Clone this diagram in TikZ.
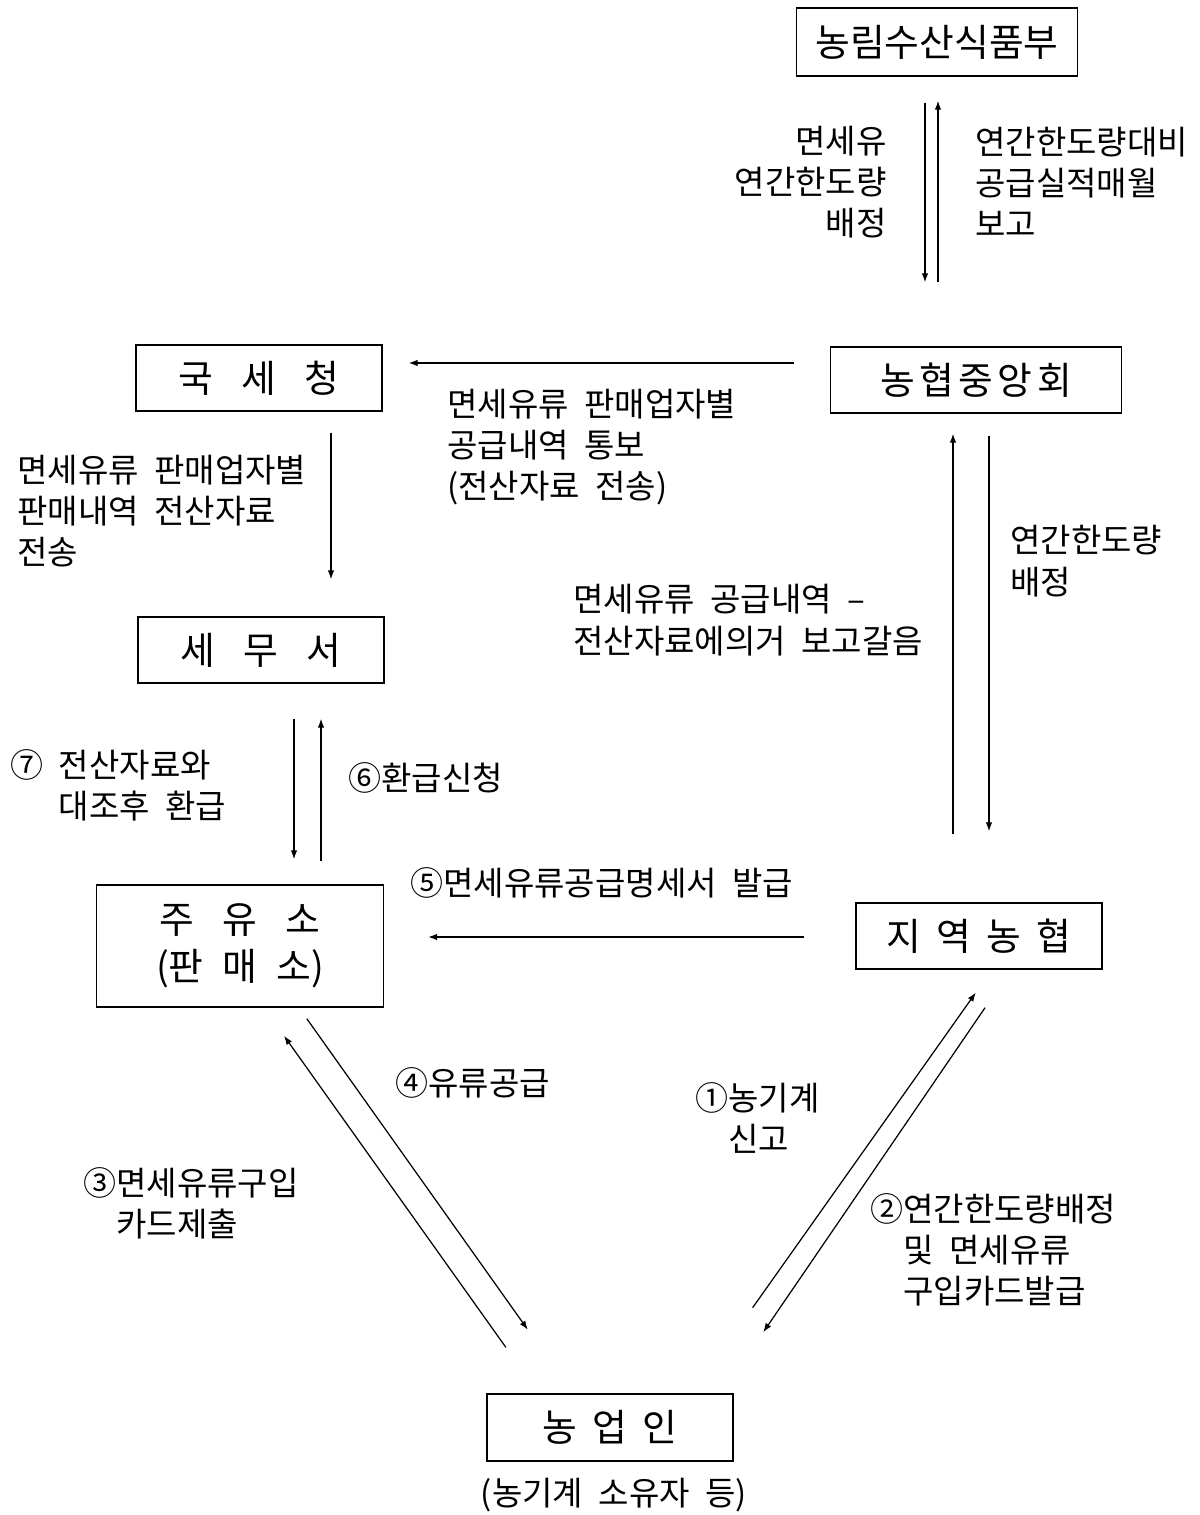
\documentclass[tikz,border=0pt]{standalone}
\usepackage{fontspec}
\setmainfont{Noto Sans CJK KR}[WordSpace=2.1]
\usepackage{tikz}
\usetikzlibrary{calc,arrows.meta}

\tikzset{
  box/.style={draw, line width=0.8pt, inner sep=0pt, align=center, font=\fontsize{21.5}{27}\selectfont},
  lbl/.style={inner sep=0pt, font=\fontsize{18.8}{23.5}\selectfont},
  arr/.style={-{Latex[length=1.8mm,width=1.3mm]}, line width=0.7pt}
}

\begin{document}
\begin{tikzpicture}[x=0.02cm,y=-0.02cm]
        \useasboundingbox (0,0) rectangle (1200,1515);

        \node[box, minimum width=5.62cm, minimum height=1.36cm] (mafra) at (937,42) {농림수산식품부};
        \node[box, minimum width=4.92cm, minimum height=1.32cm] (nts) at (259,378) {국\hspace{0.75em}세\hspace{0.75em}청};
        \node[box, minimum width=5.82cm, minimum height=1.32cm] (nh) at (976,380) {농\hspace{0.12em}협\hspace{0.12em}중\hspace{0.12em}앙\hspace{0.12em}회};
        \node[box, minimum width=4.92cm, minimum height=1.32cm] (tax) at (261,650) {세\hspace{0.75em}무\hspace{0.75em}서};
        \node[box, minimum width=5.74cm, minimum height=2.44cm] (gas) at (240,946) {주\hspace{0.75em}유\hspace{0.75em}소\\(판\hspace{0.5em}매\hspace{0.5em}소)};
        \node[box, minimum width=4.92cm, minimum height=1.32cm] (local) at (979,936) {지\hspace{0.4em}역\hspace{0.4em}농\hspace{0.4em}협};
        \node[box, minimum width=4.92cm, minimum height=1.34cm] (farmer) at (610,1427.5) {농\hspace{0.4em}업\hspace{0.4em}인};
        \node[lbl] (owner) at (614,1495) {(농기계 소유자 등)};

        \draw[arr, shorten <=0.52cm, shorten >=1.28cm] ($(mafra.south)+(-12,0)$) -- ($(mafra.south |- nh.north)+(-12,0)$);
        \draw[arr, shorten <=1.28cm, shorten >=0.48cm] ($(mafra.south |- nh.north)+(1,0)$) -- ($(mafra.south)+(1,0)$);
        \draw[arr, shorten <=0.72cm, shorten >=0.52cm] ($(nh.west)+(0,-17)$) -- ($(nts.east |- nh.west)+(0,-17)$);
        \draw[arr, shorten <=0.42cm, shorten >=0.74cm] ($(nts.south)+(72,0)$) -- ($(nts.south |- tax.north)+(72,0)$);
        \draw[arr, shorten <=0.70cm, shorten >=0.50cm] ($(tax.south)+(33,0)$) -- ($(tax.south |- gas.north)+(33,0)$);
        \draw[arr, shorten <=0.46cm, shorten >=0.70cm] ($(tax.south |- gas.north)+(60,0)$) -- ($(tax.south)+(60,0)$);
        \draw[arr, shorten <=1.36cm, shorten >=0.40cm] ($(nh.south |- local.north)+(-23,0)$) -- ($(nh.south)+(-23,0)$);
        \draw[arr, shorten <=0.44cm, shorten >=1.42cm] ($(nh.south)+(13,0)$) -- ($(nh.south |- local.north)+(13,0)$);
        \draw[arr, shorten <=1.02cm, shorten >=0.88cm] ($(local.west)+(0,1)$) -- ($(gas.east |- local.west)+(0,1)$);
        \draw[arr, shorten <=2.10cm, shorten >=0.56cm] ($(farmer.north)+(82,0)$) -- ($(local.south)+(13,0)$);
        \draw[arr, shorten <=0.92cm, shorten >=1.48cm] ($(local.south)+(32,0)$) -- ($(farmer.north)+(111.5,0)$);
        \draw[arr, shorten <=1.13cm, shorten >=0.69cm] ($(farmer.north)+(-71.4,0)$) -- ($(gas.south)+(24,0)$);
        \draw[arr, shorten <=0.27cm, shorten >=1.56cm] ($(gas.south)+(59,0)$) -- ($(farmer.north)+(-37,0)$);

        \node[lbl, align=right, anchor=east] (l1) at (887,182) {면세유\\연간한도량\\배정};
        \node[lbl, align=left, anchor=west] (l2) at (975,182) {연간한도량대비\\공급실적매월\\보고};
        \node[lbl, align=left, anchor=west] (l3) at (447,447) {면세유류 판매업자별\\공급내역 통보\\(전산자료 전송)};
        \node[lbl, align=left, anchor=west] (l4) at (17,511) {면세유류 판매업자별\\판매내역 전산자료\\전송};
        \node[lbl, align=left, anchor=west] (l5) at (1010,561) {연간한도량\\배정};
        \node[lbl, align=left, anchor=west] (l6) at (573,620) {면세유류 공급내역 –\\전산자료에의거 보고갈음};
        \node[lbl, align=left, anchor=west] (l7) at (10,785) {⑦ 전산자료와\\\hphantom{⑦ }대조후 환급};
        \node[lbl, anchor=west] (l8) at (348,778) {⑥환급신청};
        \node[lbl, anchor=west] (l9) at (410,883) {⑤면세유류공급명세서 발급};
        \node[lbl, anchor=west] (l10) at (395,1083) {④유류공급};
        \node[lbl, align=left, anchor=west] (l11) at (695,1118) {①농기계\\\hphantom{①}신고};
        \node[lbl, align=left, anchor=west] (l12) at (83,1203) {③면세유류구입\\\hphantom{③}카드제출};
        \node[lbl, align=left, anchor=west] (l13) at (870,1250) {②연간한도량배정\\\hphantom{②}및 면세유류\\\hphantom{②}구입카드발급};
    \end{tikzpicture}
\end{document}
